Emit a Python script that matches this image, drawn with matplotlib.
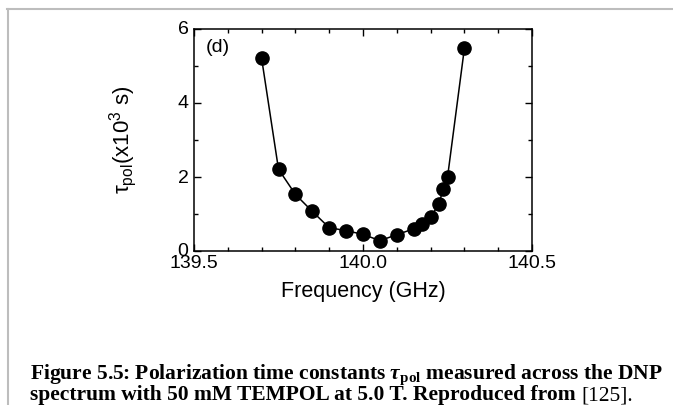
import numpy as np
import matplotlib
matplotlib.use("Agg")
import matplotlib.pyplot as plt
import matplotlib.transforms as mtransforms
from matplotlib.lines import Line2D

# ----- DATA -----
freq = [139.70, 139.75, 139.80, 139.85, 139.90, 139.95, 140.00, 140.05,
        140.10, 140.15, 140.175, 140.20, 140.225, 140.237, 140.25, 140.30]
tau_pol = [5.21, 2.21, 1.53, 1.07, 0.63, 0.55, 0.45, 0.28,
           0.44, 0.60, 0.72, 0.91, 1.28, 1.68, 1.99, 5.48]

x_ticks = [139.5, 140.0, 140.5]
x_labels = ["139.5", "140.0", "140.5"]
y_ticks = [0, 2, 4, 6]

caption_1 = r"Figure 5.5: Polarization time constants $\mathbfit{\tau}_{\mathbf{pol}}$ measured across the DNP"
caption_2 = "spectrum with 50 mM TEMPOL at 5.0 T. Reproduced from "
caption_ref = "[125]."

plt.rcParams["font.family"] = ["Liberation Sans", "DejaVu Sans"]
plt.rcParams["mathtext.fontset"] = "custom"
plt.rcParams["mathtext.rm"] = "Liberation Sans"
plt.rcParams["mathtext.it"] = "Liberation Sans:italic"
plt.rcParams["mathtext.bf"] = "Liberation Serif:bold"
plt.rcParams["mathtext.bfit"] = "Liberation Serif:italic:bold"

fig = plt.figure(figsize=(6.73, 4.05), dpi=100, facecolor="white")
ax = fig.add_axes([194 / 673, 1 - 251 / 405, 338 / 673, 222 / 405])

ax.plot(freq, tau_pol, "-", color="black", lw=1.1)
ax.plot(freq, tau_pol, "o", color="black", markersize=9.5)

ax.set_xlim(139.5, 140.5)
ax.set_ylim(0, 6)
ax.set_xticks(x_ticks)
ax.set_xticklabels(x_labels)
ax.set_xticks(np.arange(139.6, 140.45, 0.1), minor=True)
ax.set_yticks(y_ticks)
ax.set_yticks([1, 3, 5], minor=True)
ax.tick_params(which="both", direction="in", top=True, right=True,
               labelsize=14, width=1.0)
ax.tick_params(axis="x", pad=3)
ax.tick_params(axis="y", pad=4)
ax.tick_params(which="major", length=5)
ax.tick_params(which="minor", length=3)
for s in ax.spines.values():
    s.set_linewidth(1.1)

# y tick labels sit a touch above their ticks in the reference
lift = mtransforms.ScaledTranslation(0, 1 / 100, fig.dpi_scale_trans)
for lab in ax.get_yticklabels():
    lab.set_transform(lab.get_transform() + lift)

ax.set_xlabel("Frequency (GHz)", fontsize=15.5, labelpad=6)
ax.set_ylabel(r"$\mathrm{\tau}_{\mathrm{pol}}$(x10$^{3}$ s)", fontsize=16, labelpad=28)
ax.text(0.035, 0.955, "(d)", transform=ax.transAxes, fontsize=14, va="top")

# caption under the plot
fig.text(30 / 673, 1 - 379 / 405, caption_1, family="Liberation Serif",
         fontweight="bold", fontsize=15.5, va="baseline")
t2 = fig.text(30 / 673, 1 - 400 / 405, caption_2, family="Liberation Serif",
              fontweight="bold", fontsize=15.5, va="baseline")
fig.canvas.draw()
bb = t2.get_window_extent()
fig.text(bb.x1 / fig.bbox.width, 1 - 400 / 405, caption_ref,
         family="Liberation Serif", fontsize=15.5, va="baseline")

# grey page frame at top and left
fig.add_artist(Line2D([7 / 673, 1], [1 - 9 / 405, 1 - 9 / 405],
                      transform=fig.transFigure, color="#bdbdbd", lw=1.5))
fig.add_artist(Line2D([8 / 673, 8 / 673], [0, 1 - 9 / 405],
                      transform=fig.transFigure, color="#bdbdbd", lw=1.5))

fig.savefig("out.png", dpi=100)
